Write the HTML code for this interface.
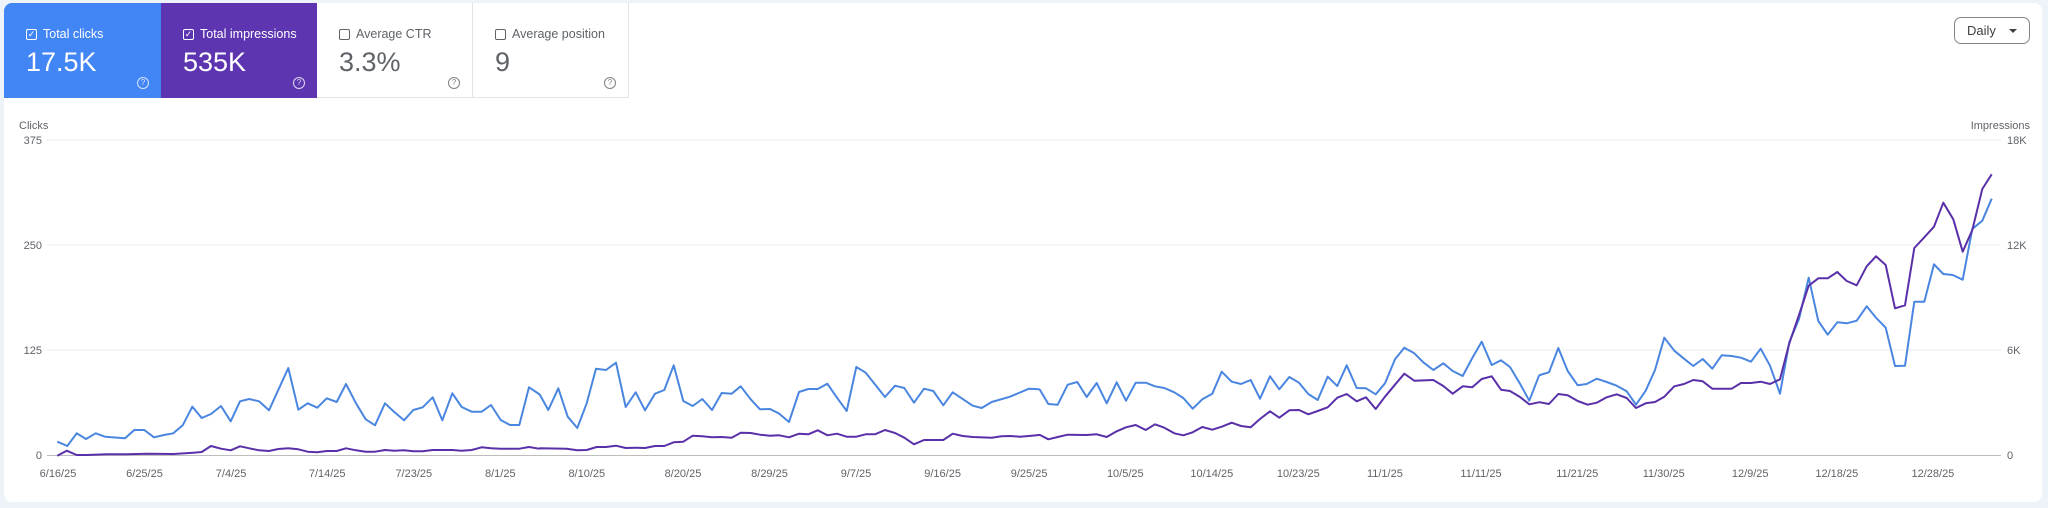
<!DOCTYPE html>
<html><head><meta charset="utf-8"><style>
body{margin:0;width:2048px;height:508px;background:#eef2f9;font-family:"Liberation Sans",sans-serif;overflow:hidden;position:relative}
.panel{position:absolute;left:4px;top:3px;width:2038px;height:499px;background:#fff;border-radius:8px}
.card{position:absolute;top:3px;height:95px;width:156px;box-sizing:border-box}
.lab{position:absolute;left:22px;top:24px;font-size:12.5px;display:flex;align-items:center}
.cb{width:9px;height:9px;border:1.3px solid currentColor;border-radius:2px;margin-right:6px;position:relative;font-size:9px;line-height:9px;text-align:center}
.val{position:absolute;left:22px;top:44px;font-size:27px;font-weight:300}
.q{position:absolute;right:12px;top:74px;width:10px;height:10px;border:1.2px solid currentColor;border-radius:50%;font-size:8px;line-height:10px;text-align:center;opacity:.8}
.daily{position:absolute;left:1954px;top:17px;width:76px;height:27px;box-sizing:border-box;border:1px solid #80868b;border-radius:7px;font-size:13px;color:#3c4043;line-height:25px;padding-left:12px}
.daily:after{content:"";position:absolute;right:12px;top:11px;border:4px solid transparent;border-top:4px solid #3c4043}
</style></head><body>
<div class="panel"></div>
<div class="card" style="left:4px;background:#4285f4;color:#fff;border-radius:8px 0 0 0;width:157px"><div class="lab"><span class="cb">✓</span>Total clicks</div><div class="val">17.5K</div><div class="q">?</div></div>
<div class="card" style="left:161px;background:#5e35b1;color:#fff"><div class="lab"><span class="cb">✓</span>Total impressions</div><div class="val">535K</div><div class="q">?</div></div>
<div class="card" style="left:317px;color:#5f6368;border-right:1px solid #e3e3e3;border-bottom:1px solid #e3e3e3"><div class="lab"><span class="cb"></span>Average CTR</div><div class="val">3.3%</div><div class="q">?</div></div>
<div class="card" style="left:473px;color:#5f6368;border-right:1px solid #e3e3e3;border-bottom:1px solid #e3e3e3"><div class="lab"><span class="cb"></span>Average position</div><div class="val">9</div><div class="q">?</div></div>
<div class="daily">Daily</div>
<svg id="s" width="2048" height="508" style="position:absolute;left:0;top:0" font-family="Liberation Sans, sans-serif" font-size="11" fill="#5f6368">
<text x="19" y="129" font-size="11">Clicks</text>
<text x="2030" y="129" text-anchor="end">Impressions</text>
<g stroke="#eeeeee" stroke-width="1"><line x1="47" x2="2001" y1="140" y2="140"/><line x1="47" x2="2001" y1="245" y2="245"/><line x1="47" x2="2001" y1="350" y2="350"/></g>
<line x1="47" x2="2001" y1="455.5" y2="455.5" stroke="#bdbdbd"/>
<g text-anchor="end"><text x="42" y="144">375</text><text x="42" y="249">250</text><text x="42" y="354">125</text><text x="42" y="459">0</text></g>
<g><text x="2007" y="144">18K</text><text x="2007" y="249">12K</text><text x="2007" y="354">6K</text><text x="2007" y="459">0</text></g>
<g id="xl" text-anchor="middle"></g>
<polyline id="pb" fill="none" stroke="#4a86e0" stroke-width="2" stroke-linejoin="round"/>
<polyline id="pp" fill="none" stroke="#5a30a8" stroke-width="2" stroke-linejoin="round"/>
</svg>
<script>
var segs=[
{ox:40,oy:300,lo:0,hi:540,
b:[52,425,82,438,110,400,138,417,167,400,195,410,255,415,283,390,313,390,342,412,372,405,400,400,428,376,457,320,485,354,513,342,543,318,572,364,600,304,628,297,657,304,687,331,745,204,775,329,803,310,832,323,860,295,890,306,918,252,948,310,977,358,1005,376,1035,310,1063,336,1092,361,1120,330,1148,322,1178,292,1207,361,1237,280,1265,321,1295,335,1325,335,1353,315,1382,360,1410,375,1438,375,1467,262,1497,282,1525,330,1555,265],
p:[52,467,80,452,110,465,140,465,200,463,260,463,320,461,400,462,460,458,485,456,513,438,543,446,572,451,600,439,628,445,657,451,687,453,715,447,745,445,775,448,803,455,832,457,860,453,890,453,918,445,948,451,977,455,1005,455,1035,450,1063,452,1092,451,1120,454,1148,454,1178,450,1237,450,1265,452,1295,450,1325,442,1353,445,1382,446,1438,446,1467,441,1497,446,1555,446]},
{ox:540,oy:300,lo:540,hi:1040,
b:[0,285,25,330,55,265,83,350,112,384,140,310,168,206,198,210,228,188,257,321,287,277,315,331,345,281,373,270,401,196,430,303,458,318,487,297,516,330,545,279,575,281,602,259,632,298,660,328,690,327,718,341,747,366,777,276,805,267,833,267,862,251,891,293,920,333,949,201,977,218,1035,291,1065,257,1093,264,1122,308,1152,266,1180,273,1210,316,1238,277,1298,317,1325,324,1355,306,1410,290,1467,266,1497,268,1525,311,1555,313],
p:[0,445,80,446,112,451,140,450,170,441,198,441,228,437,257,444,287,443,315,444,345,438,373,438,401,427,430,425,458,407,487,409,516,412,545,411,575,413,602,398,632,399,660,404,690,407,718,406,747,412,777,401,805,403,833,391,862,406,891,401,920,410,949,410,977,403,1005,403,1035,390,1065,399,1093,413,1122,433,1152,420,1210,420,1238,401,1268,408,1298,411,1355,413,1385,409,1410,408,1440,410,1467,408,1497,405,1525,418,1555,410]},
{ox:1040,oy:300,lo:1040,hi:1540,
b:[0,270,25,312,53,314,83,254,112,246,140,291,170,249,200,310,230,247,258,302,287,248,317,248,345,259,373,264,403,277,430,294,458,326,487,298,517,281,545,215,575,245,603,252,632,240,660,296,690,229,718,268,748,231,777,248,805,282,833,300,863,230,892,258,920,196,950,264,978,265,1007,283,1035,250,1065,178,1093,143,1123,160,1150,187,1180,210,1210,190,1238,213,1268,228,1297,174,1325,125,1355,195,1383,181,1410,201,1440,251,1468,302,1497,227,1525,218,1555,145],
p:[0,405,25,418,53,411,83,404,140,405,170,403,200,411,230,394,258,382,287,375,317,390,345,373,373,383,403,400,430,406,458,397,487,381,517,389,545,380,575,368,603,378,632,382,660,357,690,334,718,353,748,331,777,330,805,343,833,333,863,322,892,293,920,282,950,304,978,292,1007,327,1035,290,1065,254,1093,221,1123,242,1180,240,1210,258,1238,281,1268,259,1297,262,1325,237,1355,229,1383,269,1410,273,1440,291,1468,313,1497,307,1525,312,1555,282]},
{ox:1540,oy:150,lo:1540,hi:3000,
b:[0,675,27,667,55,594,83,663,113,706,140,702,170,686,200,696,230,707,260,724,288,764,317,722,345,660,373,563,403,602,432,626,460,648,488,627,517,656,545,616,575,618,603,623,633,635,662,596,690,647,720,731,748,577,777,507,806,383,835,513,863,554,892,517,920,520,950,512,980,469,1008,503,1037,533,1065,648,1095,647,1123,455,1153,455,1182,343,1210,372,1238,375,1268,389,1297,237,1327,212,1355,146],
p:[0,757,27,762,55,732,83,736,113,753,143,764,170,758,200,742,230,733,260,744,288,774,317,760,345,756,373,740,403,709,432,702,460,690,488,694,517,716,575,716,603,699,633,699,662,695,690,702,720,688,748,580,777,495,806,407,835,385,863,385,892,366,920,393,950,406,980,349,1008,319,1037,345,1065,475,1095,466,1123,294,1153,262,1182,230,1210,158,1240,208,1268,305,1297,240,1327,117,1355,73]}];
function build(k){var out=[];segs.forEach(function(s){var a=s[k];for(var i=0;i<a.length;i+=2){var x=s.ox+a[i]/3,y=s.oy+a[i+1]/3;if(x>=s.lo&&x<s.hi)out.push(x.toFixed(1)+","+y.toFixed(1));}});return out.join(" ");}
document.getElementById("pb").setAttribute("points",build("b"));
document.getElementById("pp").setAttribute("points",build("p"));
var labs=[["6/16/25",0],["6/25/25",9],["7/4/25",18],["7/14/25",28],["7/23/25",37],["8/1/25",46],["8/10/25",55],["8/20/25",65],["8/29/25",74],["9/7/25",83],["9/16/25",92],["9/25/25",101],["10/5/25",111],["10/14/25",120],["10/23/25",129],["11/1/25",138],["11/11/25",148],["11/21/25",158],["11/30/25",167],["12/9/25",176],["12/18/25",185],["12/28/25",195]];
var g=document.getElementById("xl"),h="";labs.forEach(function(l){h+='<text x="'+(58+l[1]*9.615).toFixed(1)+'" y="477">'+l[0]+'</text>';});g.innerHTML=h;
</script>
</body></html>
